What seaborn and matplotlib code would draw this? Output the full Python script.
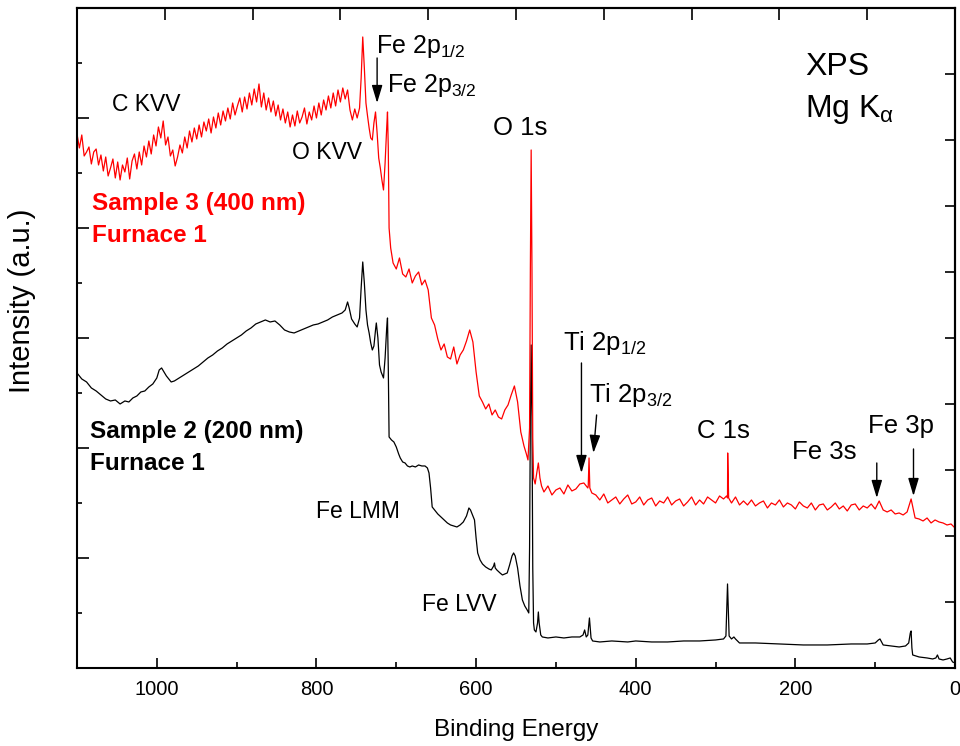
import numpy as np
import pandas as pd
import matplotlib
matplotlib.use("Agg")
import matplotlib.pyplot as plt
import seaborn as sns

# ---- Sample 2 (200 nm), Furnace 1 -- black spectrum
s2_energy = [
    1100, 1094, 1088, 1082, 1076, 1070, 1064, 1058, 1052, 1046,
    1040, 1035, 1030, 1025, 1020, 1015, 1010, 1005, 1000, 997,
    994, 991, 988, 985, 982, 978, 972, 966, 960, 954,
    948, 942, 936, 930, 924, 918, 912, 906, 900, 894,
    888, 882, 876, 870, 864, 858, 852, 846, 840, 834,
    828, 822, 816, 810, 804, 798, 792, 786, 780, 774,
    768, 764, 761, 759, 756, 752, 749, 746, 744, 742,
    740, 738, 736, 734, 732, 730, 728, 726, 725, 723,
    721, 719, 717, 716, 714, 712, 711, 710, 709, 706,
    703, 700, 697, 695, 692, 689, 686, 683, 680, 676,
    672, 668, 664, 661, 659, 657, 655, 652, 648, 644,
    640, 636, 632, 628, 624, 620, 616, 612, 609, 607,
    604, 602, 600, 598, 595, 592, 588, 584, 581, 578,
    577, 576, 574, 570, 567, 564, 561, 558, 555, 553,
    551, 548, 545, 542, 539, 536, 534, 533, 532, 531,
    530, 529, 528, 527, 525, 523, 522, 521, 519, 517,
    510, 500, 490, 480, 470, 466, 464, 462, 460, 458,
    456, 454, 445, 430, 410, 400, 380, 360, 340, 320,
    300, 290, 287, 285, 283, 280, 277, 275, 270, 250,
    220, 190, 160, 130, 110, 100, 96, 94, 92, 90,
    80, 70, 62, 58, 56, 55, 54, 53, 45, 35,
    28, 24, 22, 20, 15, 10, 6, 3, 0,
]
s2_counts = [
    295, 289, 286, 280, 277, 273, 269, 267, 268, 264,
    267, 266, 270, 272, 276, 277, 281, 284, 290, 298,
    300, 296, 292, 289, 286, 287, 290, 293, 296, 299,
    302, 306, 310, 313, 317, 320, 324, 327, 330, 333,
    337, 340, 344, 346, 348, 346, 347, 343, 338, 336,
    335, 337, 339, 341, 343, 344, 346, 348, 351, 353,
    355, 358, 366, 360, 349, 344, 341, 350, 380, 406,
    385, 358, 343, 335, 325, 318, 322, 338, 345, 330,
    303, 296, 292, 290, 310, 340, 350, 300, 231, 228,
    226, 221, 214, 210, 206, 205, 202, 201, 202, 201,
    203, 202, 202, 200, 195, 180, 161, 158, 154, 151,
    148, 145, 143, 142, 141, 143, 146, 152, 160, 158,
    152, 148, 130, 115, 108, 104, 101, 99, 98, 102,
    105, 100, 98, 95, 93, 94, 95, 103, 112, 115,
    112, 100, 82, 68, 62, 58, 55, 120, 250, 323,
    250, 100, 45, 38, 36, 45, 56, 45, 33, 31,
    30, 31, 30, 31, 31, 33, 38, 31, 33, 50,
    30, 27, 26, 27, 26, 27, 26, 26, 27, 27,
    28, 29, 32, 84, 32, 29, 31, 29, 25, 25,
    24, 23, 23, 24, 24, 25, 28, 29, 26, 23,
    22, 21, 22, 25, 35, 37, 20, 13, 11, 10,
    9, 10, 13, 9, 8, 9, 10, 6, 5,
]

# ---- Sample 3 (400 nm), Furnace 1 -- red spectrum (noisy)
s3_energy_auger = np.arange(1100, 748, -3)
s3_counts_auger = [
    534, 520, 533, 512, 516, 521, 504, 516, 519, 503,
    513, 497, 511, 492, 500, 509, 490, 506, 488, 503,
    496, 510, 489, 507, 514, 499, 516, 503, 522, 511,
    527, 514, 533, 522, 541, 530, 547, 523, 531, 512,
    518, 502, 511, 523, 515, 531, 520, 537, 526, 540,
    529, 543, 531, 546, 537, 549, 535, 551, 540, 555,
    543, 557, 547, 560, 549, 565, 553, 562, 570, 556,
    571, 559, 575, 563, 579, 566, 584, 561, 575, 558,
    570, 556, 567, 552, 563, 548, 559, 545, 556, 541,
    553, 542, 557, 545, 551, 560, 544, 556, 548, 562,
    550, 565, 553, 568, 558, 572, 560, 575, 562, 578,
    566, 580, 569, 578, 558, 548, 559, 550,
]
s3_energy_fe2p = [746, 744, 742, 740, 738, 736, 734, 732, 730, 728, 726, 724,
                  722, 720, 718, 716, 714, 712, 711, 710, 709, 707, 705]
s3_counts_fe2p = [560, 590, 631, 600, 565, 552, 540, 530, 528, 545, 556, 535,
                  510, 500, 488, 478, 505, 540, 556, 520, 440, 420, 410]
s3_energy_lmm = np.arange(704, 539, -4)
s3_counts_lmm = [
    405, 399, 410, 394, 391, 399, 385, 392, 396, 383,
    388, 378, 350, 343, 329, 318, 324, 311, 309, 321,
    304, 313, 318, 327, 338, 326, 296, 272, 266, 259,
    264, 253, 258, 251, 249, 258, 263, 273, 282, 266,
    236, 222,
]
s3_energy_o1s = [537, 535, 533, 532, 531, 530, 529, 528, 526, 524, 522, 520, 518]
s3_counts_o1s = [214, 208, 240, 400, 518, 400, 230, 190, 184, 195, 205, 190, 182]
s3_energy_tail = np.arange(515, -1, -5)
s3_counts_tail = [
    176, 182, 173, 178, 180, 174, 183, 177, 179, 184,
    185, 180, 175, 173, 168, 174, 165, 168, 171, 164,
    169, 173, 164, 166, 171, 163, 168, 170, 162, 167,
    165, 171, 163, 167, 169, 162, 166, 171, 163, 168,
    164, 171, 168, 165, 172, 169, 170, 165, 171, 163,
    167, 163, 168, 162, 165, 167, 160, 165, 163, 168,
    161, 165, 163, 159, 166, 162, 160, 165, 158, 163,
    164, 158, 161, 165, 159, 162, 157, 163, 164, 158,
    162, 160, 164, 159, 167, 158, 156, 158, 154, 155,
    153, 156, 169, 150, 149, 147, 150, 145, 148, 146,
    145, 143, 144, 140,
]
s3_energy_peaks = [459.5, 458.5, 457.5, 286.2, 284.8, 283.6]
s3_counts_peaks = [182, 210, 180, 172, 215, 170]

s2 = pd.DataFrame({"energy": s2_energy, "counts": s2_counts})
s3 = pd.DataFrame({
    "energy": np.concatenate([s3_energy_auger, s3_energy_fe2p, s3_energy_lmm,
                              s3_energy_o1s, s3_energy_tail, s3_energy_peaks]),
    "counts": np.concatenate([s3_counts_auger, s3_counts_fe2p, s3_counts_lmm,
                              s3_counts_o1s, s3_counts_tail, s3_counts_peaks]),
}).sort_values("energy")

sns.set_theme(style="ticks", rc={
    "axes.edgecolor": "black", "axes.linewidth": 1.5,
    "xtick.color": "black", "ytick.color": "black",
    "text.color": "black", "axes.labelcolor": "black",
})
plt.rcParams["font.family"] = ["Liberation Sans", "DejaVu Sans"]
plt.rcParams["mathtext.fontset"] = "custom"
plt.rcParams["mathtext.rm"] = "Liberation Sans"
plt.rcParams["mathtext.it"] = "Liberation Sans:italic"
plt.rcParams["mathtext.bf"] = "Liberation Sans:bold"

fig = plt.figure(figsize=(9.6, 7.46), dpi=100)
ax = fig.add_axes([0.0802, 0.1046, 0.9146, 0.8847])

sns.lineplot(data=s2, x="energy", y="counts", color="black", lw=0.9,
             estimator=None, ax=ax)
sns.lineplot(data=s3, x="energy", y="counts", color="#ff0000", lw=0.9,
             estimator=None, ax=ax)

ax.set_xlim(1100, 0)
ax.set_ylim(0, 660)
ax.set_xticks([1000, 800, 600, 400, 200, 0])
ax.set_xticks([900, 700, 500, 300, 100], minor=True)
ax.set_yticks(np.arange(110, 660, 110))
ax.set_yticks(np.arange(55, 660, 110), minor=True)
ax.tick_params(axis="x", which="major", direction="in", length=7.5, width=1.2,
               labelsize=14.5, pad=9)
ax.tick_params(axis="x", which="minor", direction="in", length=4, width=1.2)
ax.tick_params(axis="y", which="major", direction="in", length=8.5, width=1.2,
               labelleft=False)
ax.tick_params(axis="y", which="minor", direction="in", length=3.5, width=1.2)

top = ax.secondary_xaxis("top")
top.set_xticks(np.arange(110, 1100, 110))
top.tick_params(axis="x", direction="in", length=8.5, width=1.2,
                labeltop=False, labelbottom=False)
right = ax.secondary_yaxis("right")
right.set_yticks(np.arange(66, 660, 66))
right.tick_params(axis="y", direction="in", length=7.5, width=1.2,
                  labelright=False, labelleft=False)

ax.set_xlabel("Binding Energy", fontsize=17.5)
ax.set_ylabel("Intensity (a.u.)", fontsize=21)
ax.xaxis.set_label_coords(0.5, -0.077)
ax.yaxis.set_label_coords(-0.047, 0.556)

# peak labels
labels = [
    ("C KVV", 1056, 557, 16.5),
    ("O KVV", 831, 509, 16.5),
    (r"Fe 2p$_{\mathrm{1/2}}$", 725, 615, 18),
    (r"Fe 2p$_{\mathrm{3/2}}$", 711, 576, 18),
    ("O 1s", 579, 533, 18.5),
    ("XPS", 188, 593, 23),
    (r"Mg K$_{\mathrm{α}}$", 188, 551, 23),
    (r"Ti 2p$_{\mathrm{1/2}}$", 491, 318, 18.5),
    (r"Ti 2p$_{\mathrm{3/2}}$", 458, 266, 18.5),
    ("C 1s", 323, 230, 18.5),
    ("Fe 3s", 204, 209, 18.5),
    ("Fe 3p", 109, 235, 18.5),
    ("Fe LMM", 800, 150, 16.5),
    ("Fe LVV", 668, 57, 16.5),
]
for txt, x, y, size in labels:
    ax.text(x, y, txt, fontsize=size, ha="left", va="baseline")

ax.text(1081, 458, "Sample 3 (400 nm)", fontsize=17.5, fontweight="bold",
        color="#ff0000", va="baseline")
ax.text(1081, 426, "Furnace 1", fontsize=17.5, fontweight="bold",
        color="#ff0000", va="baseline")
ax.text(1084, 230, "Sample 2 (200 nm)", fontsize=17.5, fontweight="bold",
        va="baseline")
ax.text(1084, 198, "Furnace 1", fontsize=17.5, fontweight="bold",
        va="baseline")

# arrows pointing at peaks: (tail, tip)
arrows = [
    ((724, 610), (724, 565)),
    ((468, 305), (468, 195)),
    ((449, 253), (453, 215)),
    ((98, 205), (98, 170)),
    ((52, 219), (52, 172)),
]
for tail, tip in arrows:
    ax.annotate("", xy=tip, xytext=tail,
                arrowprops=dict(arrowstyle="-|>,head_length=0.6,head_width=0.18",
                                mutation_scale=18, color="black", lw=1.0,
                                shrinkA=0, shrinkB=0))

fig.savefig("out.png", dpi=100)
